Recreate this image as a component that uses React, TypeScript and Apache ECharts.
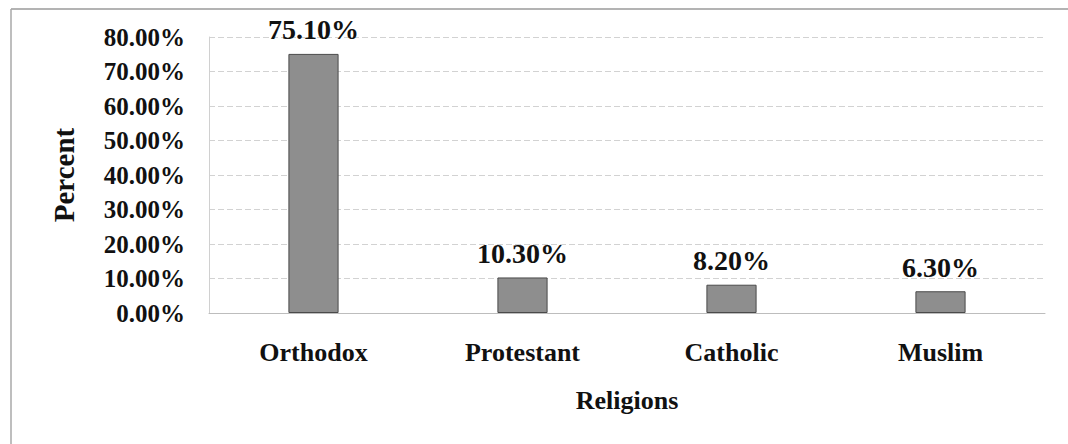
import React, { useEffect, useRef } from "react";
import * as echarts from "echarts";

const categories = ["Orthodox", "Protestant", "Catholic", "Muslim"];
const percentValues = [75.1, 10.3, 8.2, 6.3];
const yTicks = [0, 10, 20, 30, 40, 50, 60, 70, 80];
const yAxisTitle = "Percent";
const xAxisTitle = "Religions";

const FONT = "'Liberation Serif', 'Times New Roman', serif";

export default function App() {
  const ref = useRef<HTMLDivElement>(null);
  useEffect(() => {
    if (!ref.current) return;
    const chart = echarts.init(ref.current, undefined, { renderer: "svg" });
    chart.setOption({
      animation: false,
      backgroundColor: "#ffffff",
      graphic: [
        { type: "line", shape: { x1: 11, y1: 9, x2: 1068, y2: 9 }, style: { stroke: "#9a9a9a", lineWidth: 1.5 } },
        { type: "line", shape: { x1: 11, y1: 9, x2: 11, y2: 444 }, style: { stroke: "#a8a8a8", lineWidth: 1.5 } },
      ],
      grid: { left: 209, right: 23, top: 37, bottom: 131 },
      xAxis: {
        type: "category",
        data: categories,
        name: xAxisTitle,
        nameLocation: "middle",
        nameGap: 74,
        nameTextStyle: { fontFamily: FONT, fontWeight: "bold", fontSize: 26, color: "#111" },
        axisLine: { lineStyle: { color: "#bdbdbd" } },
        axisTick: { show: false },
        axisLabel: { fontFamily: FONT, fontWeight: "bold", fontSize: 26, color: "#111", margin: 26 },
      },
      yAxis: {
        type: "value",
        min: yTicks[0],
        max: yTicks[yTicks.length - 1],
        interval: 10,
        name: yAxisTitle,
        nameLocation: "middle",
        nameGap: 131,
        nameRotate: 90,
        nameTextStyle: { fontFamily: FONT, fontWeight: "bold", fontSize: 29, color: "#111" },
        axisLine: { show: true, lineStyle: { color: "#d0d0d0" } },
        axisTick: { show: false },
        splitLine: { lineStyle: { color: "#d2d2d2", type: [6, 3] } },
        axisLabel: {
          fontFamily: FONT,
          fontWeight: "bold",
          fontSize: 25,
          color: "#111",
          margin: 24,
          formatter: (v: number) => v.toFixed(2) + "%",
        },
      },
      series: [
        {
          type: "bar",
          data: percentValues,
          barWidth: "24%",
          itemStyle: { color: "#8e8e8e", borderColor: "#4a4a4a", borderWidth: 1 },
          label: {
            show: true,
            position: "top",
            distance: 10,
            fontFamily: FONT,
            fontWeight: "bold",
            fontSize: 28,
            color: "#111",
            formatter: (p: any) => p.value.toFixed(2) + "%",
          },
        },
      ],
    });
    return () => chart.dispose();
  }, []);
  return <div ref={ref} style={{ width: 1068, height: 444, position: "absolute", left: 0, top: 0 }} />;
}
